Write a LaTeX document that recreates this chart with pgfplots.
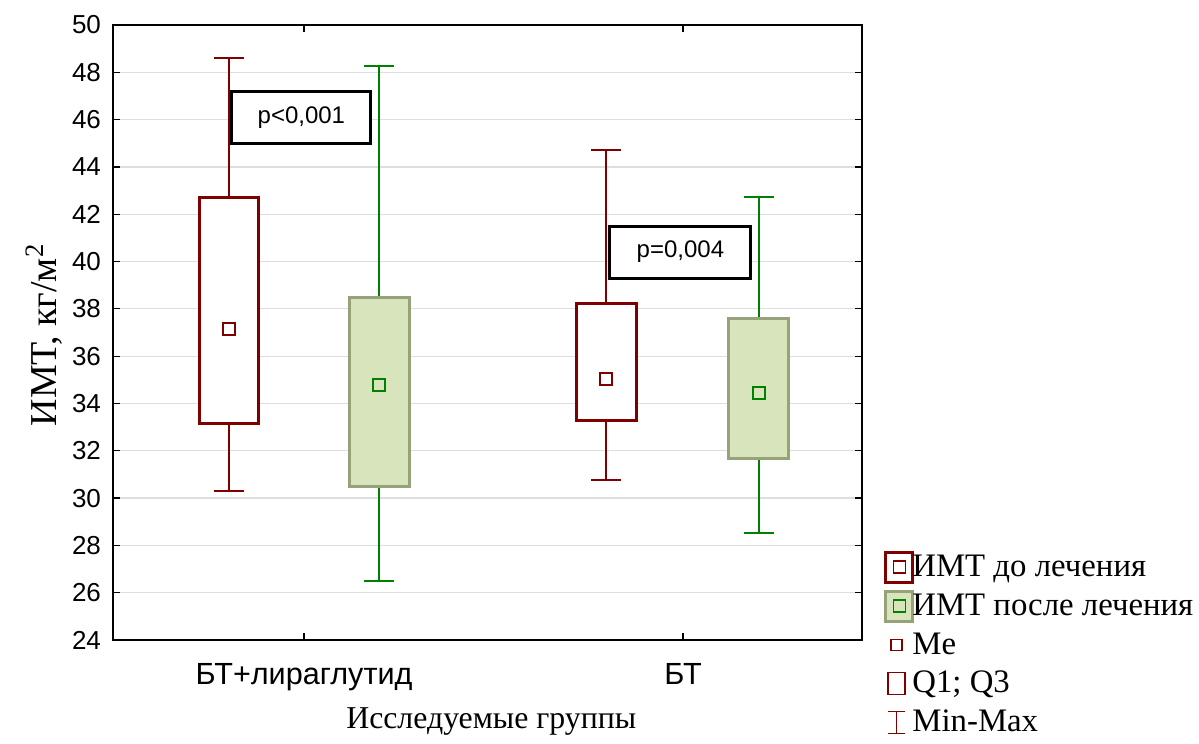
\documentclass[border=0pt]{standalone}
\usepackage{fontspec}
\setmainfont{Liberation Serif}
\newfontfamily\arial{Liberation Sans}
\usepackage{pgfplots}
\pgfplotsset{compat=1.18}
\definecolor{red0}{RGB}{128,0,0}
\definecolor{green0}{RGB}{0,128,0}
\definecolor{greenfill}{RGB}{216,228,188}
\definecolor{olive0}{RGB}{150,162,120}
\begin{document}
\begin{tikzpicture}
\begin{axis}[
 scale only axis, width=374.5pt, height=307.5pt,
 xmin=0.496, xmax=2.472, ymin=24, ymax=50,
 xtick={1,2}, xticklabels={БТ+лираглутид, БТ},
 ytick={24,26,...,50},
 ymajorgrids, grid style={draw=black!13, line width=0.6pt},
 tick align=inside, tick pos=both, major tick length=3.5pt,
 every tick/.style={black, line width=0.6pt},
 axis line style={line width=0.8pt},
 tick label style={font=\arial\fontsize{13}{15}\selectfont},
 yticklabel style={xshift=-2.5pt},
 xticklabel style={font=\arial\fontsize{15.3}{18}\selectfont, yshift=-8pt},
 /pgf/number format/assume math mode=true,
 ylabel={ИМТ, кг/м\textsuperscript{2}},
 ylabel style={font=\fontsize{19}{22}\selectfont, at={(axis description cs:-0.092,0.496)}, anchor=center},
 xlabel={Исследуемые группы},
 xlabel style={font=\fontsize{15.9}{18}\selectfont, at={(axis description cs:0.505,-0.133)}, anchor=center},
 clip=false,
 legend style={draw=none, fill=none, inner sep=0pt, at={(axis description cs:1.0,0.146)}, anchor=north west, xshift=11pt,
   font=\fontsize{16.4}{19}\selectfont, row sep=3pt, cells={anchor=west},
   /tikz/every odd column/.append style={column sep=-3pt}},
 legend cell align=left,
]
% ---- group 1, before (red)
\addplot[forget plot, draw=red0, line width=1pt] coordinates {(0.802,42.7) (0.802,48.6)};
\addplot[forget plot, draw=red0, line width=1pt] coordinates {(0.762,48.6) (0.842,48.6)};
\addplot[forget plot, draw=red0, line width=1pt] coordinates {(0.802,33.17) (0.802,30.3)};
\addplot[forget plot, draw=red0, line width=1pt] coordinates {(0.762,30.3) (0.842,30.3)};
\addplot[forget plot, draw=red0, fill=white, line width=1.5pt] coordinates {(0.723,33.17) (0.881,33.17) (0.881,42.7) (0.723,42.7)} -- cycle;
% ---- group 1, after (green)
\addplot[forget plot, draw=green0, line width=1pt] coordinates {(1.198,38.5) (1.198,48.27)};
\addplot[forget plot, draw=green0, line width=1pt] coordinates {(1.158,48.27) (1.238,48.27)};
\addplot[forget plot, draw=green0, line width=1pt] coordinates {(1.198,30.5) (1.198,26.5)};
\addplot[forget plot, draw=green0, line width=1pt] coordinates {(1.158,26.5) (1.238,26.5)};
\addplot[forget plot, draw=olive0, fill=greenfill, line width=1.5pt] coordinates {(1.119,30.5) (1.277,30.5) (1.277,38.5) (1.119,38.5)} -- cycle;
% ---- group 2, before (red)
\addplot[forget plot, draw=red0, line width=1pt] coordinates {(1.797,38.24) (1.797,44.7)};
\addplot[forget plot, draw=red0, line width=1pt] coordinates {(1.757,44.7) (1.837,44.7)};
\addplot[forget plot, draw=red0, line width=1pt] coordinates {(1.797,33.3) (1.797,30.76)};
\addplot[forget plot, draw=red0, line width=1pt] coordinates {(1.757,30.76) (1.837,30.76)};
\addplot[forget plot, draw=red0, fill=white, line width=1.5pt] coordinates {(1.718,33.3) (1.876,33.3) (1.876,38.24) (1.718,38.24)} -- cycle;
% ---- group 2, after (green)
\addplot[forget plot, draw=green0, line width=1pt] coordinates {(2.2,37.6) (2.2,42.73)};
\addplot[forget plot, draw=green0, line width=1pt] coordinates {(2.16,42.73) (2.24,42.73)};
\addplot[forget plot, draw=green0, line width=1pt] coordinates {(2.2,31.69) (2.2,28.52)};
\addplot[forget plot, draw=green0, line width=1pt] coordinates {(2.16,28.52) (2.24,28.52)};
\addplot[forget plot, draw=olive0, fill=greenfill, line width=1.5pt] coordinates {(2.121,31.69) (2.279,31.69) (2.279,37.6) (2.121,37.6)} -- cycle;
% medians
\addplot[forget plot, only marks, mark=square*, mark size=3pt, mark options={draw=red0, fill=white, line width=0.9pt}] coordinates {(0.802,37.15) (1.797,35.03)};
\addplot[forget plot, only marks, mark=square*, mark size=3pt, mark options={draw=green0, fill=greenfill, line width=0.9pt}] coordinates {(1.198,34.78) (2.2,34.44)};
% p-value boxes
\node[draw=black, line width=1.5pt, fill=white, minimum width=69.5pt, minimum height=26pt, inner sep=0pt, font=\arial\fontsize{12}{14}\selectfont] at (axis cs:0.993,46.07) {p<0,001};
\node[draw=black, line width=1.5pt, fill=white, minimum width=70.5pt, minimum height=26pt, inner sep=0pt, font=\arial\fontsize{12}{14}\selectfont] at (axis cs:1.993,40.4) {p=0,004};
% legend
\addlegendimage{legend image code/.code={\draw[red0, line width=1.5pt, fill=white] (0pt,-7.5pt) rectangle (13.5pt,7.5pt); \draw[red0, line width=0.9pt] (3.75pt,-3pt) rectangle (9.75pt,3pt);}}
\addlegendentry{ИМТ до лечения}
\addlegendimage{legend image code/.code={\draw[olive0, line width=1.5pt, fill=greenfill] (0pt,-7.5pt) rectangle (13.5pt,7.5pt); \draw[green0, line width=0.9pt] (3.75pt,-3pt) rectangle (9.75pt,3pt);}}
\addlegendentry{ИМТ после лечения}
\addlegendimage{legend image code/.code={\draw[red0, line width=0.8pt, fill=white] (2.5pt,-2.75pt) rectangle (8pt,2.75pt);}}
\addlegendentry{Me}
\addlegendimage{legend image code/.code={\draw[red0, line width=0.6pt] (1pt,-5.5pt) rectangle (9.5pt,5.5pt);}}
\addlegendentry{Q1; Q3}
\addlegendimage{legend image code/.code={\draw[red0, line width=0.6pt] (1pt,-5.5pt) -- (9.5pt,-5.5pt) (5.25pt,-5.5pt) -- (5.25pt,5.5pt) (1pt,5.5pt) -- (9.5pt,5.5pt);}}
\addlegendentry{Min-Max}
\end{axis}
\pgfresetboundingbox
\path[use as bounding box] ([shift={(-56.5pt,-52pt)}]current axis.south west) rectangle ([shift={(543pt,320pt)}]current axis.south west);
\end{tikzpicture}
\end{document}
